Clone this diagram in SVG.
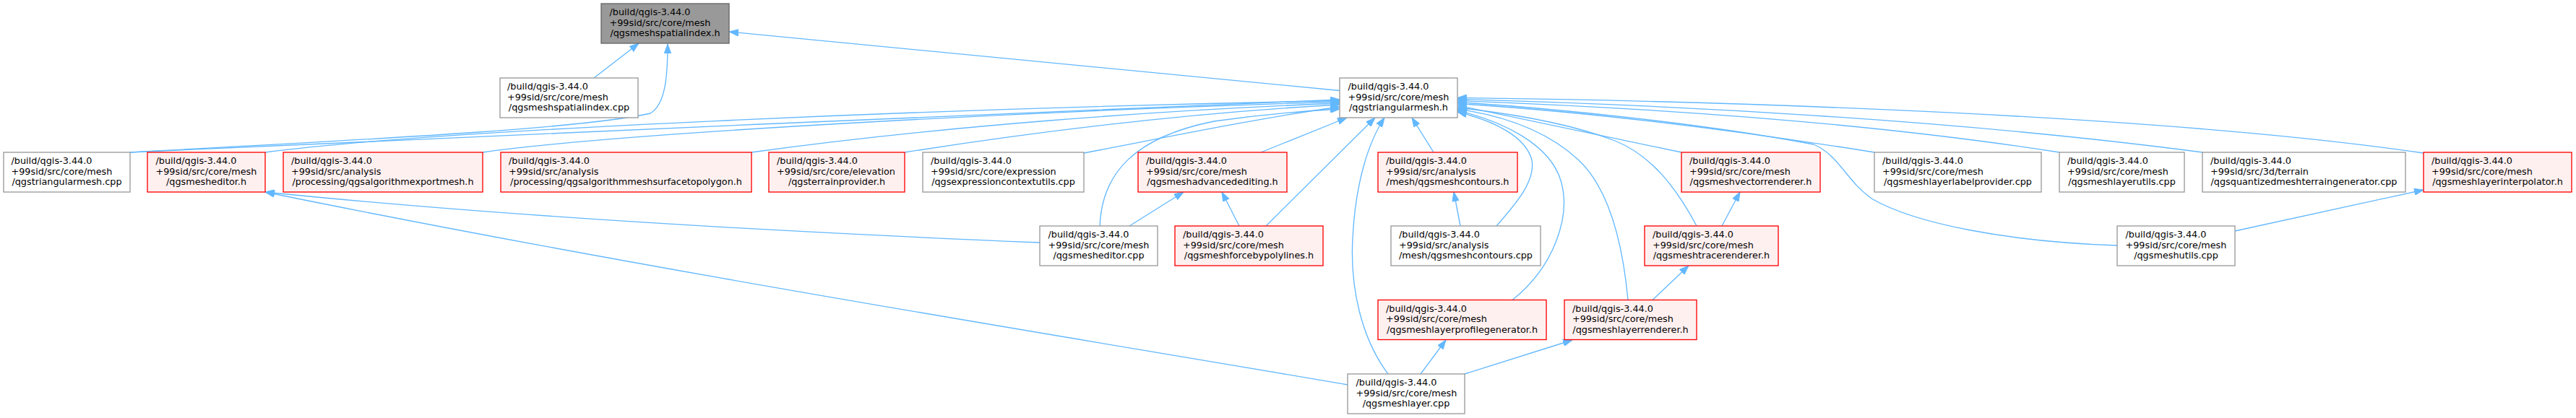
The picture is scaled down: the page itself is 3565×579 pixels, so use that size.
<svg xmlns="http://www.w3.org/2000/svg" width="3565" height="579" viewBox="0 0 3565 579">
<style>
rect{stroke-width:1.33}
.w{fill:#ffffff;stroke:#999999}
.r{fill:#fff0f0;stroke:#ff0000}
.g{fill:#999999;stroke:#666666}
text{font-family:"DejaVu Sans","Liberation Sans",sans-serif;font-size:12.8px;fill:#000000}
.c{text-anchor:middle}
#edges path{fill:none;stroke:#63b8ff;stroke-width:1.33;marker-end:url(#arr)}
</style>
<defs>
<marker id="arr" markerUnits="userSpaceOnUse" viewBox="0 0 13 9.4" refX="13" refY="4.7" markerWidth="13" markerHeight="9.4" orient="auto">
<path d="M0,0 L13,4.7 L0,9.4 z" fill="#63b8ff" stroke="#63b8ff" stroke-width="1"/>
</marker>
</defs>
<rect width="3565" height="579" fill="#ffffff"/>
<g id="edges">
<path d="M822,108 L884,60"/>
<path d="M1854,125.5 L1009,44"/>
<path d="M180,211 C450,196 800,180 900,157 C920,145 924,110 924,61"/>
<path d="M180,211 C600,190 1400,158 1854,138"/>
<path d="M367,211 C600,180 1300,150 1854,139.5"/>
<path d="M668,211 C850,185 1400,155 1854,141"/>
<path d="M1040,211 C1300,175 1600,153 1854,143"/>
<path d="M1252,211 C1450,180 1650,156 1854,145"/>
<path d="M1500,212 C1600,193 1750,162 1854,148"/>
<path d="M1522,313 C1525,240 1570,190 1680,168 C1750,158 1800,154 1854,151"/>
<path d="M1745,211 L1864,163"/>
<path d="M1752,313 L1903,163"/>
<path d="M1921,518 C1885,470 1868,400 1872,330 C1876,250 1895,195 1916,163"/>
<path d="M1984,211 L1954,163"/>
<path d="M2071,313 C2100,280 2125,250 2120,222 C2112,190 2070,168 2017,155"/>
<path d="M2093,415.5 C2150,370 2175,300 2160,250 C2145,200 2080,168 2017,153"/>
<path d="M2253,415.5 C2245,330 2225,260 2185,222 C2140,180 2080,160 2017,151"/>
<path d="M2348,313 C2320,260 2285,215 2235,195 C2165,168 2080,156 2017,149"/>
<path d="M2327,211 L2017,146"/>
<path d="M2594,211 C2400,180 2200,155 2017,143.5"/>
<path d="M2930,340 C2780,335 2650,310 2590,275 C2555,250 2545,215 2510,200 C2350,170 2150,150 2017,141.5"/>
<path d="M2850,211 C2600,172 2300,150 2017,139.5"/>
<path d="M3048,211 C2700,165 2300,145 2017,137.5"/>
<path d="M3354,212 C3000,160 2400,140 2017,135.5"/>
<path d="M2021,313 L2012,266"/>
<path d="M2383,313 L2408,266"/>
<path d="M2287,415.5 L2337,368"/>
<path d="M1966,518 L2001,471"/>
<path d="M2027,518 L2176,471"/>
<path d="M1865,533 C1500,470 900,375 367,266"/>
<path d="M1439,336 C1100,322 700,300 367,266"/>
<path d="M1563,313 L1638,266"/>
<path d="M1715,313 L1691,266"/>
<path d="M3093,320 L3354,263"/>
</g>
<g id="n0"><rect class="g" x="832" y="5" width="177" height="55"/><text x="843.5" y="21">/build/qgis-3.44.0</text><text x="843.5" y="35.7">+99sid/src/core/mesh</text><text class="c" x="920.5" y="50.4">/qgsmeshspatialindex.h</text></g>
<g id="n1"><rect class="w" x="692" y="108" width="191" height="55"/><text x="702" y="124">/build/qgis-3.44.0</text><text x="702" y="138.7">+99sid/src/core/mesh</text><text class="c" x="787.5" y="153.4">/qgsmeshspatialindex.cpp</text></g>
<g id="n2"><rect class="w" x="1854" y="108" width="163" height="55"/><text x="1865.5" y="124">/build/qgis-3.44.0</text><text x="1865.5" y="138.7">+99sid/src/core/mesh</text><text class="c" x="1935.5" y="153.4">/qgstriangularmesh.h</text></g>
<g id="n3"><rect class="w" x="5" y="211" width="175" height="55"/><text x="15.5" y="227">/build/qgis-3.44.0</text><text x="15.5" y="241.7">+99sid/src/core/mesh</text><text class="c" x="92.5" y="256.4">/qgstriangularmesh.cpp</text></g>
<g id="n4"><rect class="r" x="204" y="211" width="163" height="55"/><text x="215.5" y="227">/build/qgis-3.44.0</text><text x="215.5" y="241.7">+99sid/src/core/mesh</text><text class="c" x="285.5" y="256.4">/qgsmesheditor.h</text></g>
<g id="n5"><rect class="r" x="392" y="211" width="276" height="55"/><text x="403" y="227">/build/qgis-3.44.0</text><text x="403" y="241.7">+99sid/src/analysis</text><text class="c" x="530" y="256.4">/processing/qgsalgorithmexportmesh.h</text></g>
<g id="n6"><rect class="r" x="693" y="211" width="347" height="55"/><text x="704" y="227">/build/qgis-3.44.0</text><text x="704" y="241.7">+99sid/src/analysis</text><text class="c" x="866.5" y="256.4">/processing/qgsalgorithmmeshsurfacetopolygon.h</text></g>
<g id="n7"><rect class="r" x="1064" y="211" width="188" height="55"/><text x="1075" y="227">/build/qgis-3.44.0</text><text x="1075" y="241.7">+99sid/src/core/elevation</text><text class="c" x="1158" y="256.4">/qgsterrainprovider.h</text></g>
<g id="n8"><rect class="w" x="1277" y="211" width="223" height="55"/><text x="1288" y="227">/build/qgis-3.44.0</text><text x="1288" y="241.7">+99sid/src/core/expression</text><text class="c" x="1388.5" y="256.4">/qgsexpressioncontextutils.cpp</text></g>
<g id="n9"><rect class="r" x="1575" y="211" width="206" height="55"/><text x="1586" y="227">/build/qgis-3.44.0</text><text x="1586" y="241.7">+99sid/src/core/mesh</text><text class="c" x="1678" y="256.4">/qgsmeshadvancedediting.h</text></g>
<g id="n10"><rect class="r" x="1907" y="211" width="193" height="55"/><text x="1918" y="227">/build/qgis-3.44.0</text><text x="1918" y="241.7">+99sid/src/analysis</text><text class="c" x="2003.5" y="256.4">/mesh/qgsmeshcontours.h</text></g>
<g id="n11"><rect class="r" x="2327" y="211" width="192" height="55"/><text x="2338" y="227">/build/qgis-3.44.0</text><text x="2338" y="241.7">+99sid/src/core/mesh</text><text class="c" x="2423" y="256.4">/qgsmeshvectorrenderer.h</text></g>
<g id="n12"><rect class="w" x="2594" y="211" width="231" height="55"/><text x="2605" y="227">/build/qgis-3.44.0</text><text x="2605" y="241.7">+99sid/src/core/mesh</text><text class="c" x="2709.5" y="256.4">/qgsmeshlayerlabelprovider.cpp</text></g>
<g id="n13"><rect class="w" x="2850" y="211" width="173" height="55"/><text x="2861" y="227">/build/qgis-3.44.0</text><text x="2861" y="241.7">+99sid/src/core/mesh</text><text class="c" x="2936.5" y="256.4">/qgsmeshlayerutils.cpp</text></g>
<g id="n14"><rect class="w" x="3048" y="211" width="281" height="55"/><text x="3059" y="227">/build/qgis-3.44.0</text><text x="3059" y="241.7">+99sid/src/3d/terrain</text><text class="c" x="3188.5" y="256.4">/qgsquantizedmeshterraingenerator.cpp</text></g>
<g id="n15"><rect class="r" x="3354" y="211" width="205" height="55"/><text x="3365" y="227">/build/qgis-3.44.0</text><text x="3365" y="241.7">+99sid/src/core/mesh</text><text class="c" x="3456.5" y="256.4">/qgsmeshlayerinterpolator.h</text></g>
<g id="n16"><rect class="w" x="1439" y="313" width="163" height="55"/><text x="1450.5" y="329">/build/qgis-3.44.0</text><text x="1450.5" y="343.7">+99sid/src/core/mesh</text><text class="c" x="1520.5" y="358.4">/qgsmesheditor.cpp</text></g>
<g id="n17"><rect class="r" x="1626" y="313" width="205" height="55"/><text x="1637" y="329">/build/qgis-3.44.0</text><text x="1637" y="343.7">+99sid/src/core/mesh</text><text class="c" x="1728.5" y="358.4">/qgsmeshforcebypolylines.h</text></g>
<g id="n18"><rect class="w" x="1925" y="313" width="207" height="55"/><text x="1936" y="329">/build/qgis-3.44.0</text><text x="1936" y="343.7">+99sid/src/analysis</text><text class="c" x="2028.5" y="358.4">/mesh/qgsmeshcontours.cpp</text></g>
<g id="n19"><rect class="r" x="2276" y="313" width="185" height="55"/><text x="2287" y="329">/build/qgis-3.44.0</text><text x="2287" y="343.7">+99sid/src/core/mesh</text><text class="c" x="2368.5" y="358.4">/qgsmeshtracerenderer.h</text></g>
<g id="n20"><rect class="w" x="2930" y="313" width="163" height="55"/><text x="2941.5" y="329">/build/qgis-3.44.0</text><text x="2941.5" y="343.7">+99sid/src/core/mesh</text><text class="c" x="3011.5" y="358.4">/qgsmeshutils.cpp</text></g>
<g id="n21"><rect class="r" x="1907" y="415.5" width="233" height="55"/><text x="1918" y="431.5">/build/qgis-3.44.0</text><text x="1918" y="446.2">+99sid/src/core/mesh</text><text class="c" x="2023.5" y="460.9">/qgsmeshlayerprofilegenerator.h</text></g>
<g id="n22"><rect class="r" x="2165" y="415.5" width="183" height="55"/><text x="2176" y="431.5">/build/qgis-3.44.0</text><text x="2176" y="446.2">+99sid/src/core/mesh</text><text class="c" x="2256.5" y="460.9">/qgsmeshlayerrenderer.h</text></g>
<g id="n23"><rect class="w" x="1865" y="518" width="162" height="55"/><text x="1876.5" y="534">/build/qgis-3.44.0</text><text x="1876.5" y="548.7">+99sid/src/core/mesh</text><text class="c" x="1946" y="563.4">/qgsmeshlayer.cpp</text></g>
</svg>
